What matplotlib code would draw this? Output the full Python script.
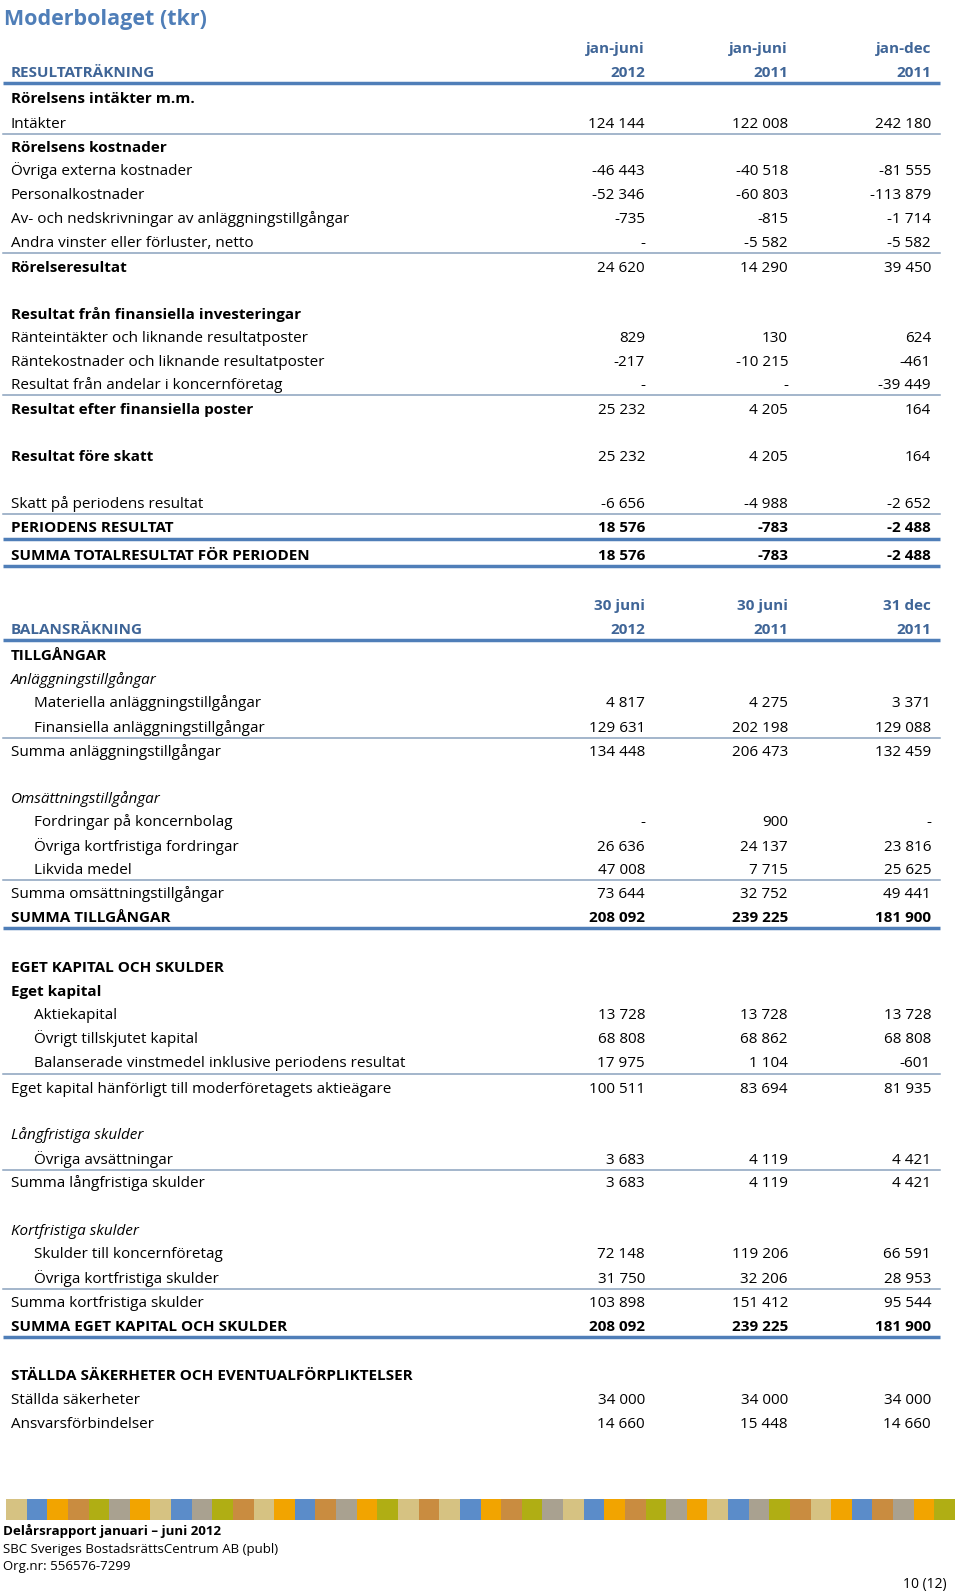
import numpy as np
import matplotlib
matplotlib.use('Agg')
import matplotlib.pyplot as plt

# 字体
plt.rcParams['font.family'] = ['Open Sans', 'DejaVu Sans']

# ---- data: resultaträkning ----
res_labels = ['Rörelsens intäkter m.m.', 'Intäkter', 'Rörelsens kostnader',
              'Övriga externa kostnader', 'Personalkostnader',
              'Av- och nedskrivningar av anläggningstillgångar',
              'Andra vinster eller förluster, netto', 'Rörelseresultat',
              'Resultat från finansiella investeringar',
              'Ränteintäkter och liknande resultatposter',
              'Räntekostnader och liknande resultatposter',
              'Resultat från andelar i koncernföretag',
              'Resultat efter finansiella poster', 'Resultat före skatt',
              'Skatt på periodens resultat', 'PERIODENS RESULTAT',
              'SUMMA TOTALRESULTAT FÖR PERIODEN']
res_2012 = [None, 124144, None, -46443, -52346, -735, 0, 24620, None, 829, -217, 0,
            25232, 25232, -6656, 18576, 18576]
res_2011 = [None, 122008, None, -40518, -60803, -815, -5582, 14290, None, 130, -10215, 0,
            4205, 4205, -4988, -783, -783]
res_2011_helar = [None, 242180, None, -81555, -113879, -1714, -5582, 39450, None, 624, -461, -39449,
                  164, 164, -2652, -2488, -2488]

# ---- data: balansräkning ----
bal_labels = ['TILLGÅNGAR', 'Anläggningstillgångar', 'Materiella anläggningstillgångar',
              'Finansiella anläggningstillgångar', 'Summa anläggningstillgångar',
              'Omsättningstillgångar', 'Fordringar på koncernbolag',
              'Övriga kortfristiga fordringar', 'Likvida medel',
              'Summa omsättningstillgångar', 'SUMMA TILLGÅNGAR',
              'EGET KAPITAL OCH SKULDER', 'Eget kapital', 'Aktiekapital',
              'Övrigt tillskjutet kapital',
              'Balanserade vinstmedel inklusive periodens resultat',
              'Eget kapital hänförligt till moderföretagets aktieägare',
              'Långfristiga skulder', 'Övriga avsättningar', 'Summa långfristiga skulder',
              'Kortfristiga skulder', 'Skulder till koncernföretag',
              'Övriga kortfristiga skulder', 'Summa kortfristiga skulder',
              'SUMMA EGET KAPITAL OCH SKULDER',
              'STÄLLDA SÄKERHETER OCH EVENTUALFÖRPLIKTELSER',
              'Ställda säkerheter', 'Ansvarsförbindelser']
bal_2012 = [None, None, 4817, 129631, 134448, None, 0, 26636, 47008, 73644, 208092,
            None, None, 13728, 68808, 17975, 100511, None, 3683, 3683, None, 72148, 31750,
            103898, 208092, None, 34000, 14660]
bal_2011 = [None, None, 4275, 202198, 206473, None, 900, 24137, 7715, 32752, 239225,
            None, None, 13728, 68862, 1104, 83694, None, 4119, 4119, None, 119206, 32206,
            151412, 239225, None, 34000, 15448]
bal_2011_dec = [None, None, 3371, 129088, 132459, None, 0, 23816, 25625, 49441, 181900,
                None, None, 13728, 68808, -601, 81935, None, 4421, 4421, None, 66591, 28953,
                95544, 181900, None, 34000, 14660]

res_head = [('jan-juni', '2012'), ('jan-juni', '2011'), ('jan-dec', '2011')]
bal_head = [('30 juni', '2012'), ('30 juni', '2011'), ('31 dec', '2011')]

# ---- layout / style ----
# style: n normal, b bold label, B bold label+values, i italic, s indented
res_style = ['b', 'n', 'b', 'n', 'n', 'n', 'n', 'b', 'b', 'n', 'n', 'n', 'b', 'b', 'n', 'B', 'B']
res_y = [97.6, 122, 146.4, 169.8, 193.2, 217.6, 241, 266.4, 313.2, 336.6, 360, 383.4,
         408.8, 455.6, 502.4, 526.8, 554.2]
res_line = {1: 'thin', 6: 'thin', 11: 'thin', 14: 'thin', 15: 'thick', 16: 'thick'}

bal_style = ['b', 'i', 's', 's', 'n', 'i', 's', 's', 's', 'n', 'B', 'b', 'b', 's', 's', 's',
             'n', 'i', 's', 'n', 'i', 's', 's', 'n', 'B', 'b', 'n', 'n']
bal_y = [654.9, 678.3, 701.7, 726, 750.5, 797.2, 820.6, 845, 868.4, 892.8, 916.2,
         966, 990.5, 1013.8, 1037.2, 1061.6, 1087, 1133.8, 1158.2, 1181.6, 1229.4, 1252.8,
         1277.2, 1301.6, 1325, 1374.8, 1398.2, 1422.6]
bal_line = {3: 'thin', 8: 'thin', 10: 'thick', 15: 'thin', 18: 'thin', 22: 'thin', 24: 'thick'}

col_x = [645, 788, 931]
FS = 11
DY = 5.6  # row centre -> baseline
BLUE = '#4f7eb8'
HEAD = '#3f6597'
THIN = '#8aa2bd'

strip_colors = ['tan', 'blue', 'orange', 'brown', 'olive', 'gray', 'orange', 'tan', 'blue',
                'gray', 'olive', 'brown', 'tan', 'orange', 'blue', 'brown', 'gray', 'orange',
                'olive', 'tan', 'brown', 'tan', 'blue', 'orange', 'brown', 'olive', 'gray',
                'tan', 'blue', 'orange', 'brown', 'olive', 'gray', 'orange', 'tan', 'blue',
                'gray', 'olive', 'brown', 'tan', 'orange', 'blue', 'brown', 'gray', 'orange',
                'olive']
palette = {'tan': '#d6c282', 'blue': '#5b8cc9', 'orange': '#f2a400', 'brown': '#c98c40',
           'olive': '#b0ae14', 'gray': '#a9a190'}


def fmt(v):
    if v is None:
        return ''
    if v == 0:
        return '-'
    return f'{v:,}'.replace(',', ' ')


fig = plt.figure(figsize=(9.6, 15.95), dpi=100)
ax = fig.add_axes([0, 0, 1, 1])
ax.set_xlim(0, 960)
ax.set_ylim(1595, 0)
ax.axis('off')

ax.text(4, 19, 'Moderbolaget (tkr)', fontsize=15.5, fontweight='bold', color=BLUE, va='center')


def header(y1, y2, title, heads):
    ax.text(11, y2 + DY, title, fontsize=FS, fontweight='bold', color=HEAD, va='baseline')
    for x, (h1, h2) in zip(col_x, heads):
        ax.text(x, y1 + DY, h1, fontsize=FS, fontweight='bold', color=HEAD, va='baseline', ha='right')
        ax.text(x, y2 + DY, h2, fontsize=FS, fontweight='bold', color=HEAD, va='baseline', ha='right')
    ax.plot([3, 940], [y2 + 11.5, y2 + 11.5], color=BLUE, lw=2.5, solid_capstyle='butt')


def block(labels, cols, styles, ys, lines):
    for i, lab in enumerate(labels):
        st = styles[i]
        y = ys[i]
        x0 = 34 if st == 's' else 11
        w = 'bold' if st in 'bB' else 'normal'
        sty = 'italic' if st == 'i' else 'normal'
        ax.text(x0, y + DY, lab, fontsize=FS, fontweight=w, fontstyle=sty, va='baseline')
        for x, c in zip(col_x, cols):
            ax.text(x, y + DY, fmt(c[i]), fontsize=FS, va='baseline', ha='right',
                    fontweight='bold' if st == 'B' else 'normal')
        if i in lines:
            if lines[i] == 'thin':
                ax.plot([3, 940], [y + 12, y + 12], color=THIN, lw=1.1)
            else:
                ax.plot([3, 940], [y + 12, y + 12], color=BLUE, lw=2.5, solid_capstyle='butt')


header(47.8, 71.2, 'RESULTATRÄKNING', res_head)
block(res_labels, [res_2012, res_2011, res_2011_helar], res_style, res_y, res_line)
header(604, 628.4, 'BALANSRÄKNING', bal_head)
block(bal_labels, [bal_2012, bal_2011, bal_2011_dec], bal_style, bal_y, bal_line)

# färgremsa
sq = (955 - 6) / len(strip_colors)
ax.bar(6 + sq * np.arange(len(strip_colors)), 21, width=sq, bottom=1499, align='edge',
       color=[palette[c] for c in strip_colors], linewidth=0)

ax.text(3, 1535, 'Delårsrapport januari – juni 2012', fontsize=9.6, fontweight='bold', va='baseline')
ax.text(3, 1553, 'SBC Sveriges BostadsrättsCentrum AB (publ)', fontsize=9.5, va='baseline')
ax.text(3, 1570, 'Org.nr: 556576-7299', fontsize=9.5, va='baseline')
ax.text(947, 1588, '10 (12)', fontsize=10, va='baseline', ha='right')

fig.savefig('out.png', dpi=100)
